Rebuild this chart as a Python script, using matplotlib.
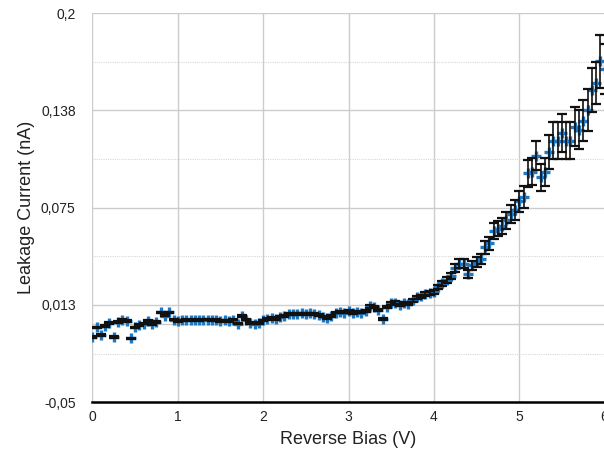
import numpy as np
import matplotlib
matplotlib.use("Agg")
import matplotlib.pyplot as plt
from matplotlib.ticker import FixedLocator, FixedFormatter

plt.rcParams['font.family'] = ['Liberation Sans', 'DejaVu Sans']

# Reverse bias sweep (V)
bias = [
    0.00, 0.05, 0.10, 0.15, 0.20, 0.25, 0.30, 0.35, 0.40, 0.45,
    0.50, 0.55, 0.60, 0.65, 0.70, 0.75, 0.80, 0.85, 0.90, 0.95,
    1.00, 1.05, 1.10, 1.15, 1.20, 1.25, 1.30, 1.35, 1.40, 1.45,
    1.50, 1.55, 1.60, 1.65, 1.70, 1.75, 1.80, 1.85, 1.90, 1.95,
    2.00, 2.05, 2.10, 2.15, 2.20, 2.25, 2.30, 2.35, 2.40, 2.45,
    2.50, 2.55, 2.60, 2.65, 2.70, 2.75, 2.80, 2.85, 2.90, 2.95,
    3.00, 3.05, 3.10, 3.15, 3.20, 3.25, 3.30, 3.35, 3.40, 3.45,
    3.50, 3.55, 3.60, 3.65, 3.70, 3.75, 3.80, 3.85, 3.90, 3.95,
    4.00, 4.05, 4.10, 4.15, 4.20, 4.25, 4.30, 4.35, 4.40, 4.45,
    4.50, 4.55, 4.60, 4.65, 4.70, 4.75, 4.80, 4.85, 4.90, 4.95,
    5.00, 5.05, 5.10, 5.15, 5.20, 5.25, 5.30, 5.35, 5.40, 5.45,
    5.50, 5.55, 5.60, 5.65, 5.70, 5.75, 5.80, 5.85, 5.90, 5.95,
    6.00,
]

# Leakage current (nA)
current = [
    -0.008, -0.002, -0.007, -0.001, 0.001, -0.008, 0.0017, 0.003, 0.002, -0.009,
    -0.002, -0.0005, 0.0005, 0.002, 0.000, 0.0017, 0.0077, 0.0056, 0.0077, 0.003,
    0.002, 0.0025, 0.003, 0.0025, 0.003, 0.0025, 0.003, 0.003, 0.0025, 0.003,
    0.002, 0.0025, 0.002, 0.003, 0.0005, 0.0055, 0.003, 0.001, 0.0005, 0.001,
    0.0025, 0.0035, 0.004, 0.0035, 0.005, 0.0055, 0.0065, 0.0065, 0.0065, 0.007,
    0.0065, 0.007, 0.0065, 0.006, 0.005, 0.004, 0.0055, 0.0075, 0.008, 0.0075,
    0.0085, 0.007, 0.008, 0.0075, 0.0085, 0.0115, 0.011, 0.0095, 0.0035, 0.011,
    0.0135, 0.014, 0.0125, 0.0135, 0.013, 0.0155, 0.0175, 0.018, 0.0195, 0.020,
    0.021, 0.024, 0.0265, 0.0285, 0.031, 0.036, 0.039, 0.039, 0.0325, 0.038,
    0.040, 0.042, 0.0495, 0.052, 0.060, 0.0615, 0.0635, 0.067, 0.071, 0.0735,
    0.079, 0.082, 0.097, 0.098, 0.1085, 0.0945, 0.098, 0.111, 0.118, 0.118,
    0.123, 0.118, 0.118, 0.127, 0.125, 0.131, 0.138, 0.1505, 0.155, 0.169,
    0.164,
]

# Error (nA)
error = [
    0.0005, 0.0005, 0.0005, 0.0005, 0.0005, 0.0005, 0.0005, 0.0005, 0.0005, 0.0005,
    0.0005, 0.0005, 0.0005, 0.0005, 0.0005, 0.0005, 0.0005, 0.0005, 0.0005, 0.0005,
    0.0005, 0.0005, 0.0005, 0.0005, 0.0005, 0.0005, 0.0005, 0.0005, 0.0005, 0.0005,
    0.0005, 0.0005, 0.0005, 0.0005, 0.0005, 0.0005, 0.0005, 0.0005, 0.0005, 0.0005,
    0.0005, 0.0005, 0.0005, 0.0005, 0.0005, 0.0005, 0.0005, 0.0005, 0.0005, 0.0005,
    0.0005, 0.0005, 0.0005, 0.0005, 0.0005, 0.0005, 0.0005, 0.0005, 0.0005, 0.0005,
    0.0005, 0.0005, 0.0005, 0.0005, 0.0005, 0.0007, 0.0007, 0.0006, 0.0005, 0.0007,
    0.0008, 0.0008, 0.0008, 0.0008, 0.0008, 0.0009, 0.001, 0.001, 0.0011, 0.0012,
    0.0012, 0.0014, 0.0016, 0.0018, 0.002, 0.0025, 0.003, 0.003, 0.0024, 0.003,
    0.003, 0.0032, 0.004, 0.0042, 0.005, 0.005, 0.0052, 0.0055, 0.006, 0.0065,
    0.007, 0.0072, 0.0085, 0.0087, 0.0095, 0.0088, 0.009, 0.011, 0.012, 0.012,
    0.0125, 0.012, 0.012, 0.0125, 0.0125, 0.013, 0.0135, 0.014, 0.0135, 0.017,
    0.016,
]

y_ticks = [-0.05, 0.0125, 0.075, 0.1375, 0.2]
y_labels = ['-0,05', '0,013', '0,075', '0,138', '0,2']
y_minor = [-0.01875, 0.04375, 0.10625, 0.16875]
x_ticks = [0, 1, 2, 3, 4, 5, 6]

fig = plt.figure(figsize=(6.04, 4.57), dpi=100)
ax = fig.add_axes([0.153, 0.120, 0.848, 0.851])

# markers first, error bars drawn over them
ax.plot(bias, current, linestyle='none', marker='+', markersize=7,
        markeredgewidth=2.4, color='#1f78c4', zorder=3)
ax.errorbar(bias, current, yerr=error, fmt='none', ecolor='#111111',
            elinewidth=1.2, capsize=3.8, capthick=1.6, zorder=4)

ax.set_xlim(0, 6)
ax.set_ylim(-0.05, 0.2)
ax.xaxis.set_major_locator(FixedLocator(x_ticks))
ax.yaxis.set_major_locator(FixedLocator(y_ticks))
ax.yaxis.set_major_formatter(FixedFormatter(y_labels))
ax.yaxis.set_minor_locator(FixedLocator(y_minor))

ax.grid(which='major', color='#cccccc', linewidth=1.0, zorder=0)
ax.grid(which='minor', axis='y', color='#d8d8d8', linewidth=0.8,
        linestyle=(0, (1, 1)), zorder=0)
ax.axhline(0, color='#cccccc', linewidth=1.0, zorder=1)
ax.set_axisbelow(True)

for side in ['left', 'top', 'right']:
    ax.spines[side].set_visible(False)
ax.spines['bottom'].set_color('black')
ax.spines['bottom'].set_linewidth(1.8)
ax.spines['bottom'].set_zorder(5)

ax.tick_params(which='both', length=0)
ax.tick_params(axis='y', pad=12, labelsize=10, labelcolor='#222222')
ax.tick_params(axis='x', pad=6, labelsize=10, labelcolor='#222222')

ax.set_xlabel('Reverse Bias (V)', fontsize=13, labelpad=5, color='#222222')
ax.set_ylabel('Leakage Current (nA)', fontsize=13, labelpad=4, color='#222222')

fig.savefig('out.png', dpi=100)
